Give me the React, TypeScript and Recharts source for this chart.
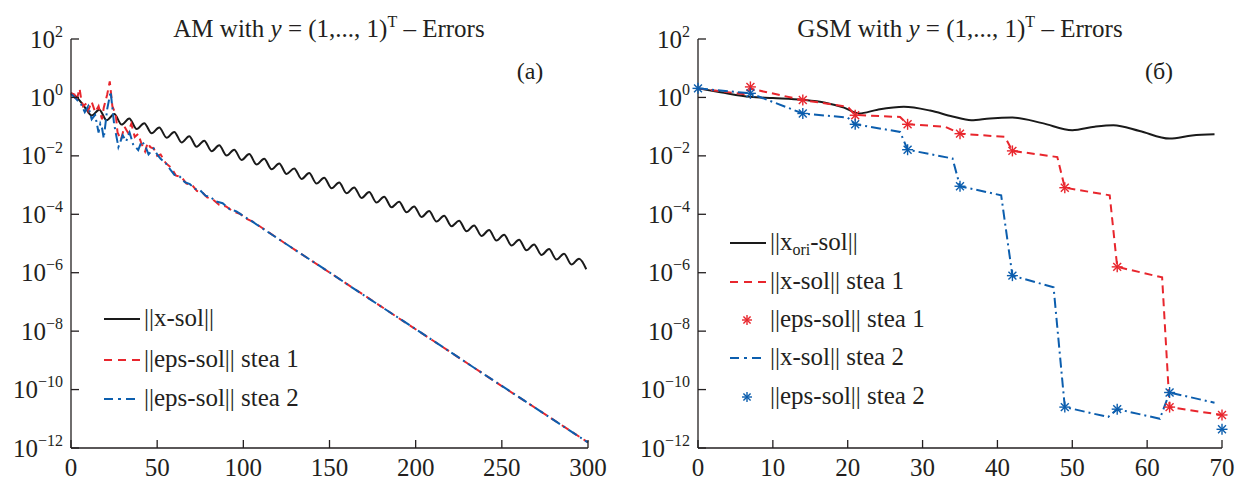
import { ComposedChart, Line, Scatter, XAxis, YAxis } from "recharts"

const INK = "#231f20"
const BLACK = "#1a1a1a"
const RED = "#e8262d"
const BLUE = "#0c5eae"
const FONT = "'Liberation Serif', 'Times New Roman', serif"

// values as [iteration, log10(error)]
const amXSol = [
  [0, 0.15], [3, 0.02], [6, -0.18], [9, -0.42], [12, -0.62], [16.4, -0.42], [20.7, -0.78], [25.1, -0.57],
  [29.4, -0.93], [33.8, -0.72], [38.1, -1.08], [42.5, -0.88], [46.8, -1.23], [51.2, -1.03], [55.5, -1.38],
  [59.9, -1.18], [64.2, -1.54], [68.6, -1.33], [72.9, -1.69], [77.3, -1.48], [81.6, -1.84], [86, -1.64],
  [90.3, -1.99], [94.7, -1.79], [99, -2.14], [103.4, -1.94], [107.7, -2.3], [112.1, -2.1], [116.4, -2.46],
  [120.8, -2.26], [125.1, -2.62], [129.5, -2.43], [133.8, -2.79], [138.2, -2.59], [142.5, -2.95],
  [146.9, -2.75], [151.2, -3.11], [155.6, -2.91], [159.9, -3.28], [164.3, -3.08], [168.6, -3.44],
  [173, -3.24], [177.3, -3.6], [181.7, -3.4], [186, -3.76], [190.4, -3.57], [194.7, -3.93], [199.1, -3.73],
  [203.4, -4.09], [207.8, -3.89], [212.1, -4.25], [216.5, -4.05], [220.8, -4.41], [225.2, -4.22],
  [229.5, -4.58], [233.9, -4.38], [238.2, -4.74], [242.6, -4.54], [246.9, -4.9], [251.3, -4.7],
  [255.6, -5.07], [260, -4.87], [264.3, -5.23], [268.7, -5.03], [273, -5.39], [277.4, -5.19],
  [281.7, -5.55], [286.1, -5.35], [290.4, -5.72], [294.8, -5.52], [299, -5.88],
]

const amEpsStea1 = [
  [0, 0.15], [2, 0.1], [3, -0.15], [5, 0.3], [6, -0.1], [7, -0.3], [9, -0.2], [10, -0.45], [12, -0.15],
  [14, -0.5], [16, -0.3], [18, -0.75], [19, -0.35], [21, 0.1], [22.5, 0.55], [24, -0.3], [26, -0.6],
  [27, -1.2], [29, -1.45], [31, -1.0], [33, -1.2], [35, -0.9], [37, -1.35], [39, -1.25], [41, -1.6],
  [43, -1.85], [44.5, -1.55], [46, -1.7], [48, -1.75], [50, -2.0], [52, -1.95], [55, -2.25], [58, -2.4],
  [61, -2.68], [64, -2.72], [67, -2.95], [70, -2.98], [73, -3.2], [76, -3.24], [79, -3.42], [82, -3.48],
  [86, -3.68], [90, -3.73], [94, -3.9], [98, -3.98], [102, -4.16], [106, -4.27], [115, -4.63],
  [130, -5.22], [145, -5.8], [160, -6.38], [175, -6.96], [190, -7.55], [210, -8.32], [230, -9.1],
  [250, -9.88], [270, -10.65], [290, -11.42], [300, -11.81],
]

const amEpsStea2 = [
  [0, 0.12], [3, -0.05], [6, -0.25], [8, -0.5], [10, -0.3], [12, -0.75], [14, -0.6], [16, -1.2],
  [17, -0.9], [18, -1.05], [19, -1.4], [21, -0.4], [23, 0.2], [25, -0.9], [27.5, -1.7], [30, -1.3],
  [32, -1.5], [34, -1.2], [36, -1.6], [39, -1.8], [41, -1.5], [43, -1.65], [45, -1.95], [48, -1.75],
  [50, -1.95], [52, -2.1], [55, -2.25], [58, -2.5], [60, -2.65], [63, -2.7], [66, -2.9], [69, -2.97],
  [72, -3.13], [75, -3.18], [78, -3.36], [81, -3.41], [84, -3.56], [88, -3.62], [92, -3.82], [96, -3.9],
  [100, -4.06], [104, -4.2], [110, -4.44], [120, -4.83], [135, -5.41], [150, -5.99], [165, -6.58],
  [180, -7.16], [200, -7.93], [220, -8.71], [240, -9.49], [260, -10.26], [280, -11.04], [300, -11.81],
]

const gsmXori = [
  [0, 0.31], [3, 0.18], [7, 0.02], [10, -0.02], [14, -0.08], [17, -0.18], [19.5, -0.35], [21.5, -0.55],
  [24, -0.42], [27.5, -0.32], [31, -0.45], [34, -0.65], [36.5, -0.78], [39, -0.72], [42, -0.69],
  [46, -0.88], [50, -1.12], [53, -1.0], [55.5, -0.95], [59, -1.15], [63, -1.41], [66, -1.3], [69, -1.26],
]

const gsmXStea1 = [
  [0, 0.31], [6.5, 0.1], [7, 0.3], [14, -0.09], [20, -0.32], [21, -0.6], [27, -0.67], [28, -0.92],
  [33, -1.0], [35, -1.24], [41, -1.35], [42, -1.83], [48, -2.04], [49, -3.09], [55, -3.35], [56, -5.8],
  [62, -6.16], [63, -10.6], [70, -10.87],
]

const gsmXStea2 = [
  [0, 0.31], [7, 0.14], [14, -0.55], [20, -0.69], [21, -0.92], [27, -1.18], [28, -1.79], [34, -2.09],
  [35, -3.04], [40.5, -3.35], [42, -6.1], [47.5, -6.5], [49, -10.6], [54.8, -10.94], [56, -10.67],
  [61.7, -11.0], [63, -10.1], [69, -10.45],
]

const gsmEpsStea1 = [
  [7, 0.36], [14, -0.09], [21, -0.61], [28, -0.92], [35, -1.24], [42, -1.83], [49, -3.09], [56, -5.8],
  [63, -10.6], [70, -10.87],
]

const gsmEpsStea2 = [
  [0, 0.31], [7, 0.14], [14, -0.55], [21, -0.92], [28, -1.79], [35, -3.04], [42, -6.1], [49, -10.6],
  [56, -10.67], [63, -10.1], [70, -11.36],
]

const yExponents = [2, 0, -2, -4, -6, -8, -10, -12]
const amTicks = [0, 50, 100, 150, 200, 250, 300]
const gsmTicks = [0, 10, 20, 30, 40, 50, 60, 70]

const rows = (pts: number[][]) => pts.map(([it, lg]) => ({ it, err: Math.pow(10, lg) }))
const yTicks = yExponents.map((e) => Math.pow(10, e))

const TICK = 8
const GAP = 8
const RED_DASH = "8 5"
const BLUE_DASH = "10 4 2 4"

function YTick({ x, y, payload }: any) {
  const e = Math.round(Math.log10(payload.value))
  const ax = x + GAP
  return (
    <g>
      <line x1={ax} x2={ax + TICK} y1={y} y2={y} stroke={INK} strokeWidth={1.3} />
      <text x={x} y={y + 8.5} textAnchor="end" fontFamily={FONT} fontSize={25} fill={INK}>
        10<tspan dy={-11} fontSize={16}>{e < 0 ? `\u2212${-e}` : `${e}`}</tspan>
      </text>
    </g>
  )
}

function XTick({ x, y, payload }: any) {
  const ay = y - GAP
  return (
    <g>
      <line x1={x} x2={x} y1={ay} y2={ay - TICK} stroke={INK} strokeWidth={1.3} />
      <text x={x} y={ay + 27.5} textAnchor="middle" fontFamily={FONT} fontSize={25} fill={INK}>
        {payload.value}
      </text>
    </g>
  )
}

function Asterisk({ cx, cy, color, r = 5.5 }: any) {
  const d = r * 0.72
  return (
    <g stroke={color} strokeWidth={1.4}>
      <line x1={cx - r} x2={cx + r} y1={cy} y2={cy} />
      <line x1={cx} x2={cx} y1={cy - r} y2={cy + r} />
      <line x1={cx - d} x2={cx + d} y1={cy - d} y2={cy + d} />
      <line x1={cx - d} x2={cx + d} y1={cy + d} y2={cy - d} />
    </g>
  )
}

function Title({ x, name }: { x: number; name: string }) {
  return (
    <text x={x} y={37} textAnchor="middle" fontFamily={FONT} fontSize={25} fill={INK}>
      {name} with <tspan fontStyle="italic">y</tspan> = (1,..., 1)
      <tspan dy={-10} fontSize={16}>T</tspan>
      <tspan dy={10}> – Errors</tspan>
    </text>
  )
}

type Item = { label: any; color: string; dash?: string; star?: boolean }

function LegendBox({ x, ys, items }: { x: number; ys: number[]; items: Item[] }) {
  return (
    <g>
      {items.map((it, i) => (
        <g key={i}>
          {it.star ? (
            <Asterisk cx={x + 17} cy={ys[i]} color={it.color} r={5} />
          ) : (
            <line x1={x} x2={x + 36} y1={ys[i]} y2={ys[i]} stroke={it.color} strokeWidth={2}
              strokeDasharray={it.dash} />
          )}
          <text x={x + 40} y={ys[i] + 7} fontFamily={FONT} fontSize={25} fill={INK}>{it.label}</text>
        </g>
      ))}
    </g>
  )
}

const axisLine = { stroke: INK, strokeWidth: 1.3 }

function Panel({ children, xMax, xTicks, width, right }: any) {
  return (
    <ComposedChart width={width} height={485} margin={{ top: 39, right, bottom: 0, left: 0 }}>
      <XAxis dataKey="it" type="number" domain={[0, xMax]} ticks={xTicks} interval={0} height={37}
        axisLine={axisLine} tickLine={false} tickSize={0} tickMargin={GAP} tick={<XTick />} />
      <YAxis dataKey="err" type="number" scale="log" domain={[1e-12, 1e2]} allowDataOverflow ticks={yTicks}
        interval={0} width={71} axisLine={axisLine} tickLine={false} tickSize={0} tickMargin={GAP}
        tick={<YTick />} />
      {children}
    </ComposedChart>
  )
}

export default function App() {
  return (
    <div style={{ position: "absolute", left: 0, top: 0, width: 1238, height: 485, background: "#fff" }}>
      <div style={{ position: "absolute", left: 0, top: 0 }}>
        <Panel width={619} right={31} xMax={300} xTicks={amTicks}>
          <Line data={rows(amXSol)} dataKey="err" type="monotone" stroke={BLACK} strokeWidth={2} dot={false}
            isAnimationActive={false} />
          <Line data={rows(amEpsStea1)} dataKey="err" type="linear" stroke={RED} strokeWidth={2}
            strokeDasharray={RED_DASH} dot={false} isAnimationActive={false} />
          <Line data={rows(amEpsStea2)} dataKey="err" type="linear" stroke={BLUE} strokeWidth={2}
            strokeDasharray={BLUE_DASH} dot={false} isAnimationActive={false} />
          <Title x={329} name="AM" />
          <text x={530} y={79} textAnchor="middle" fontFamily={FONT} fontSize={24} fill={INK}>(a)</text>
          <LegendBox x={104} ys={[319, 360, 399]} items={[
            { label: "||x-sol||", color: BLACK },
            { label: "||eps-sol|| stea 1", color: RED, dash: "8 6" },
            { label: "||eps-sol|| stea 2", color: BLUE, dash: "9 5 3 5" },
          ]} />
        </Panel>
      </div>
      <div style={{ position: "absolute", left: 627, top: 0 }}>
        <Panel width={611} right={16} xMax={70} xTicks={gsmTicks}>
          <Line data={rows(gsmXori)} dataKey="err" type="monotone" stroke={BLACK} strokeWidth={2} dot={false}
            isAnimationActive={false} />
          <Line data={rows(gsmXStea1)} dataKey="err" type="linear" stroke={RED} strokeWidth={2}
            strokeDasharray={RED_DASH} dot={false} isAnimationActive={false} />
          <Line data={rows(gsmXStea2)} dataKey="err" type="linear" stroke={BLUE} strokeWidth={2}
            strokeDasharray={BLUE_DASH} dot={false} isAnimationActive={false} />
          <Scatter data={rows(gsmEpsStea1)} dataKey="err" isAnimationActive={false}
            shape={(p: any) => <Asterisk cx={p.cx} cy={p.cy} color={RED} />} />
          <Scatter data={rows(gsmEpsStea2)} dataKey="err" isAnimationActive={false}
            shape={(p: any) => <Asterisk cx={p.cx} cy={p.cy} color={BLUE} />} />
          <Title x={333} name="GSM" />
          <text x={532} y={79} textAnchor="middle" fontFamily={FONT} fontSize={24} fill={INK}>(б)</text>
          <LegendBox x={103} ys={[243, 282, 320, 358, 397]} items={[
            { label: <>||x<tspan dy={5} fontSize={16}>ori</tspan><tspan dy={-5}>-sol||</tspan></>, color: BLACK },
            { label: "||x-sol|| stea 1", color: RED, dash: "8 6" },
            { label: "||eps-sol|| stea 1", color: RED, star: true },
            { label: "||x-sol|| stea 2", color: BLUE, dash: "9 5 3 5" },
            { label: "||eps-sol|| stea 2", color: BLUE, star: true },
          ]} />
        </Panel>
      </div>
    </div>
  )
}
